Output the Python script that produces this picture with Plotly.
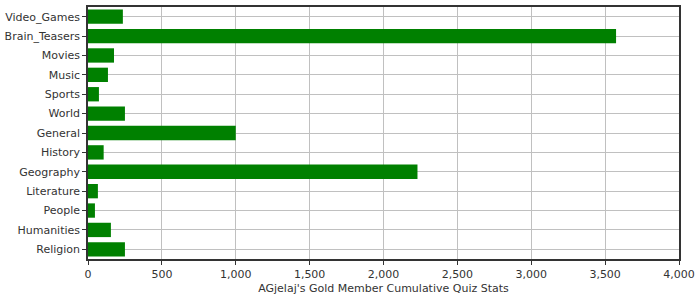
import plotly.graph_objects as go

categories = ["Video_Games", "Brain_Teasers", "Movies", "Music", "Sports", "World",
              "General", "History", "Geography", "Literature", "People", "Humanities", "Religion"]
values = [236, 3574, 176, 135, 74, 250, 1000, 106, 2230, 67, 47, 155, 250]
x_tickvals = [0, 500, 1000, 1500, 2000, 2500, 3000, 3500, 4000]
x_ticktext = ["0", "500", "1,000", "1,500", "2,000", "2,500", "3,000", "3,500", "4,000"]
x_title = "AGjelaj's Gold Member Cumulative Quiz Stats"

fig = go.Figure(go.Bar(
    y=categories, x=values, orientation="h",
    marker=dict(color="#008000", line=dict(width=0)),
))

fig.update_layout(
    width=700, height=300,
    margin=dict(l=87, r=21, t=5, b=41),
    paper_bgcolor="white", plot_bgcolor="white",
    font=dict(family="DejaVu Sans", size=11, color="#333333"),
    bargap=0.26,
    showlegend=False,
)
fig.update_xaxes(
    range=[0, 4000], tickvals=x_tickvals, ticktext=x_ticktext,
    showgrid=True, gridcolor="#c0c0c0", gridwidth=1,
    showline=True, linecolor="#333333", linewidth=1.5, mirror=True,
    ticks="outside", ticklen=4, tickcolor="#333333",
    title=dict(text=x_title, standoff=4, font=dict(size=11)),
    zeroline=False,
)
fig.update_yaxes(
    categoryorder="array", categoryarray=categories, autorange="reversed",
    showgrid=True, gridcolor="#c0c0c0", gridwidth=1,
    showline=True, linecolor="#333333", linewidth=1.5, mirror=True,
    ticks="outside", ticklen=4, tickcolor="#333333",
)

fig.write_html("out.html")
